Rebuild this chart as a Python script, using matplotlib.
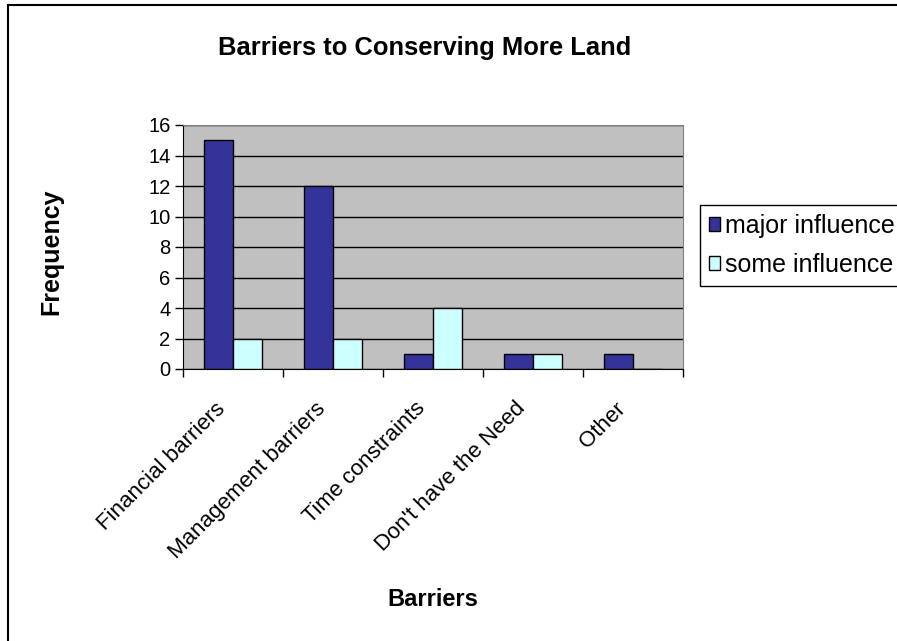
import matplotlib.pyplot as plt
import numpy as np
from matplotlib.patches import Rectangle

plt.rcParams['font.family'] = ['Liberation Sans', 'DejaVu Sans']

categories = ['Financial barriers', 'Management barriers', 'Time constraints',
              "Don't have the Need", 'Other']
major = [15, 12, 1, 1, 1]
some = [2, 2, 4, 1, 0]

fig = plt.figure(figsize=(8.97, 6.41), dpi=100)
ax = fig.add_axes([183 / 897, 1 - 369 / 641, 500 / 897, 244 / 641])

x = np.arange(len(categories))
w = 1 / 3.5
ax.bar(x - w / 2, major, w, color='#333399', edgecolor='black', linewidth=1,
       label='major influence', zorder=3)
ax.bar(x + w / 2, some, w, color='#CCFFFF', edgecolor='black', linewidth=1,
       label='some influence', zorder=3)

ax.set_facecolor('#C0C0C0')
ax.set_xlim(-0.5, len(categories) - 0.5)
ax.set_ylim(0, 16)
ax.set_yticks(range(0, 17, 2))
ax.tick_params(axis='y', labelsize=14.5, length=6, width=1, pad=3)
ax.yaxis.grid(True, color='black', linewidth=1, zorder=1)
ax.set_axisbelow(True)

ax.set_xticks(np.arange(-0.5, len(categories), 1))
ax.set_xticklabels([])
ax.tick_params(axis='x', length=6, width=1)
for i, c in enumerate(categories):
    ax.annotate(c, xy=(i, 0), xycoords=('data', 'axes fraction'),
                xytext=(-13, -21), textcoords='offset points',
                rotation=45, ha='right', va='top', rotation_mode='anchor',
                fontsize=16)

for s in ['top', 'right']:
    ax.spines[s].set_color('#808080')
for s in ['left', 'bottom']:
    ax.spines[s].set_color('black')

fig.text(51 / 897, 1 - 252 / 641, 'Frequency', rotation=90, ha='center',
         va='center', fontsize=18, fontweight='bold')
fig.text(433 / 897, 1 - 600 / 641, 'Barriers', ha='center', va='center',
         fontsize=17, fontweight='bold')
fig.text(425 / 897, 1 - 48 / 641, 'Barriers to Conserving More Land',
         ha='center', va='center', fontsize=18.4, fontweight='bold')

leg = fig.legend(loc='upper left', bbox_to_anchor=(700 / 897, 1 - 205 / 641),
                 fontsize=18, frameon=True, fancybox=False, edgecolor='black',
                 framealpha=1, handlelength=0.45, handleheight=0.45,
                 handletextpad=0.2, borderpad=0.35, labelspacing=0.6,
                 borderaxespad=0)
leg.get_frame().set_linewidth(1)

fig.patches.append(Rectangle((7.5 / 897, -0.1), 1.2, 1.1 - 4.5 / 641,
                             transform=fig.transFigure, fill=False,
                             edgecolor='black', linewidth=1.5))

fig.savefig('out.png', dpi=100)
